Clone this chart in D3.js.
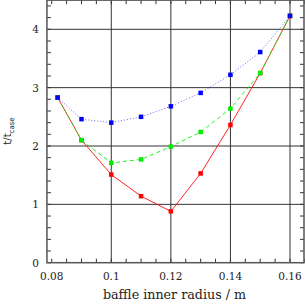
<!DOCTYPE html>
<html>
<head>
<meta charset="utf-8">
<script src="https://cdn.jsdelivr.net/npm/d3@7"></script>
<style>
  html, body { margin: 0; padding: 0; background: #fff; }
  svg { display: block; }
</style>
</head>
<body>
<div id="chart"></div>
<script>
// baffle inner radius (m)
const radius = [0.082, 0.09, 0.1, 0.11, 0.12, 0.13, 0.14, 0.15, 0.16];
// t / t_case for three runs
const redVals   = [2.83, 2.10, 1.51, 1.14, 0.88, 1.53, 2.36, 3.25, 4.23];
const greenVals = [2.83, 2.10, 1.71, 1.77, 1.99, 2.24, 2.64, 3.25, 4.23];
const blueVals  = [2.83, 2.46, 2.40, 2.50, 2.68, 2.91, 3.22, 3.61, 4.23];
const xTicks = [0.08, 0.1, 0.12, 0.14, 0.16];
const yTicks = [0, 1, 2, 3, 4];

const W = 305, H = 305;
// scales anchored on tick positions
const x = d3.scaleLinear().domain([0.08, 0.16]).range([51.7, 290]);
const y = d3.scaleLinear().domain([0, 4]).range([262.7, 29.3]);
const xMin = 0.0784, xMax = 0.1647, yMin = 0, yMax = 4.5;
const pLeft = x(xMin), pRight = x(xMax), pTop = y(yMax), pBottom = y(yMin);

const svg = d3.select("#chart").append("svg")
  .attr("width", W).attr("height", H);

const serif = "'DejaVu Serif', serif";
const gridColor = "#333";

// grid lines
svg.append("g").selectAll("line").data(xTicks.filter(d => d > 0.09))
  .join("line")
  .attr("x1", d => x(d)).attr("x2", d => x(d))
  .attr("y1", pTop).attr("y2", pBottom)
  .attr("stroke", gridColor).attr("stroke-width", 1);
svg.append("g").selectAll("line").data(yTicks.filter(d => d > 0))
  .join("line")
  .attr("x1", pLeft).attr("x2", pRight)
  .attr("y1", d => y(d)).attr("y2", d => y(d))
  .attr("stroke", gridColor).attr("stroke-width", 1);

// minor ticks, inside the frame on all four sides
const xMinor = d3.range(0.08, 0.1651, 0.005);
const yMinor = d3.range(0, 4.51, 0.2);
const tk = 4;
const ticks = svg.append("g").attr("stroke", gridColor).attr("stroke-width", 1);
xMinor.forEach(d => {
  ticks.append("line").attr("x1", x(d)).attr("x2", x(d)).attr("y1", pBottom).attr("y2", pBottom - tk);
  ticks.append("line").attr("x1", x(d)).attr("x2", x(d)).attr("y1", pTop).attr("y2", pTop + tk);
});
yMinor.forEach(d => {
  ticks.append("line").attr("x1", pLeft).attr("x2", pLeft + tk).attr("y1", y(d)).attr("y2", y(d));
  ticks.append("line").attr("x1", pRight).attr("x2", pRight - tk).attr("y1", y(d)).attr("y2", y(d));
});

// frame
svg.append("rect")
  .attr("x", pLeft).attr("y", pTop)
  .attr("width", pRight - pLeft).attr("height", pBottom - pTop)
  .attr("fill", "none").attr("stroke", "#555").attr("stroke-width", 1.5);

// tick labels
svg.append("g").selectAll("text").data(xTicks).join("text")
  .attr("x", d => x(d)).attr("y", 280)
  .attr("text-anchor", "middle")
  .style("font-family", serif).style("font-size", "10.5px").style("fill", "#222")
  .text(d => d3.format("")(d));
svg.append("g").selectAll("text").data(yTicks).join("text")
  .attr("x", 39).attr("y", d => y(d) + 4)
  .attr("text-anchor", "end")
  .style("font-family", serif).style("font-size", "10.5px").style("fill", "#222")
  .text(d => d);

// axis titles
svg.append("text")
  .attr("x", 174.5).attr("y", 299)
  .attr("text-anchor", "middle")
  .style("font-family", serif).style("font-size", "12.7px").style("fill", "#222")
  .text("baffle inner radius / m");

const yl = svg.append("text")
  .attr("transform", "translate(11,131) rotate(-90)")
  .attr("text-anchor", "middle")
  .style("font-family", "'DejaVu Sans', sans-serif").style("font-size", "10px").style("fill", "#222");
yl.append("tspan").text("t/t");
yl.append("tspan").attr("dy", 3).style("font-size", "7px").text("case");

// series
const series = [
  { vals: redVals,   color: "#ff0000", dash: null },
  { vals: greenVals, color: "#00ee00", dash: "4,3" },
  { vals: blueVals,  color: "#0000ff", dash: "1,2" }
];
const line = d3.line().x(d => x(d[0])).y(d => y(d[1]));

series.forEach(s => {
  const pts = radius.map((r, i) => [r, s.vals[i]]);
  svg.append("path").datum(pts)
    .attr("d", line)
    .attr("fill", "none")
    .attr("stroke", s.color)
    .attr("stroke-width", 1)
    .attr("stroke-opacity", s.color === "#0000ff" ? 0.6 : 0.85)
    .attr("stroke-dasharray", s.dash);
  svg.append("g").selectAll("rect").data(pts).join("rect")
    .attr("x", d => x(d[0]) - 2.25).attr("y", d => y(d[1]) - 2.25)
    .attr("width", 4.5).attr("height", 4.5)
    .attr("fill", s.color);
});
</script>
</body>
</html>
